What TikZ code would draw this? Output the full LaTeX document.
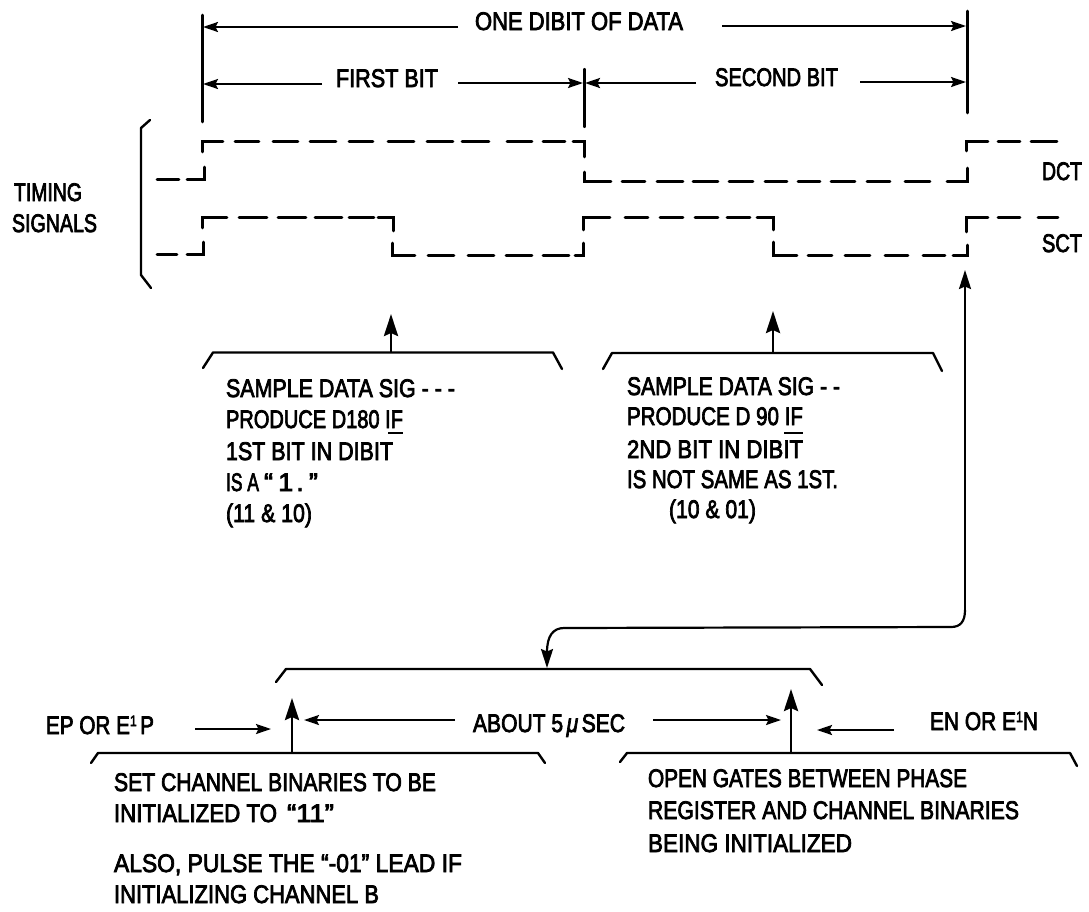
\documentclass[tikz,border=0pt]{standalone}
\usepackage{fontspec}
\usepackage{graphicx}
\usetikzlibrary{arrows.meta}
\setmainfont{Liberation Sans}[FakeBold=3.2]
\tikzset{
  lab/.style={anchor=base west,inner sep=0pt,outer sep=0pt,font=\fontsize{25.5}{28}\selectfont},
  tick/.style={line width=2.9pt,line cap=round},
  sig/.style={line width=2.9pt,line cap=round,line join=miter},
  brk/.style={line width=2.4pt,line cap=round,line join=round},
  hair/.style={line width=2.1pt,-{Stealth[length=15pt,width=10pt,inset=2.5pt]}},
  bigup/.style={line width=2.9pt,-{Stealth[length=22pt,width=14pt,inset=3pt]}},
  lead/.style={line width=2.2pt,-{Stealth[length=19pt,width=12pt,inset=2.5pt]}}
}
\newcommand{\lbl}[5]{\node[lab] (#1) at (#2,#3) {\resizebox{#4pt}{\height}{#5}};}
\newcommand{\fitw}[2]{\resizebox{#1pt}{\height}{#2}}
\begin{document}
\begin{tikzpicture}[x=1pt,y=-1pt]
\useasboundingbox (0,0) rectangle (1089,911);
% ---- measuring ticks
\coordinate (ta) at (202.5,15);  \coordinate (tb) at (202.5,122);
\coordinate (tc) at (584.5,69);  \coordinate (td) at (584.5,127);
\coordinate (te) at (967.5,11);  \coordinate (tf) at (967.5,113);
\draw[tick] (ta) -- (tb);
\draw[tick,line width=2.3pt] (tc) -- (td);
\draw[tick] (te) -- (tf);
% ---- dimension labels and arrows
\lbl{onedibit}{475}{30}{208}{ONE DIBIT OF DATA}
\lbl{firstbit}{336}{87}{102}{FIRST BIT}
\lbl{secondbit}{715}{86}{123}{SECOND BIT}
\coordinate (a1) at (458,27);  \coordinate (a1e) at (203,27);
\coordinate (a2) at (722,26);  \coordinate (a2e) at (966,26);
\coordinate (a3) at (322,84);  \coordinate (a3e) at (203,84);
\coordinate (a4) at (458,83);  \coordinate (a4e) at (583,83);
\coordinate (a5) at (696,83);  \coordinate (a5e) at (585,83);
\coordinate (a6) at (860,82);  \coordinate (a6e) at (966,82);
\foreach \p/\q in {a1/a1e,a2/a2e,a3/a3e,a4/a4e,a5/a5e,a6/a6e} \draw[hair] (\p) -- (\q);
% ---- left bracket
\draw[brk] (150,120) -- (141,128) -- (141,275) -- (151,288);
\lbl{timing}{14}{201}{68}{TIMING}
\lbl{signals}{12}{232}{85}{SIGNALS}
\lbl{dct}{1042}{180}{40}{DCT}
\lbl{sct}{1042}{252}{40}{SCT}
% ---- DCT waveform
\foreach \a/\b in {235/259,273/298,310/336,349/373,388/414,427/453,462/489,507/532,543/565} \draw[sig] (\a,141.5) -- (\b,141.5);
\draw[sig] (157,179.5) -- (179,179.5);
\draw[sig] (187,179.5) -- (204.5,179.5) -- (204.5,167);
\draw[sig] (202.5,152) -- (202.5,141.5) -- (223,141.5);
\draw[sig] (573,141.5) -- (584.5,141.5) -- (584.5,157);
\draw[sig] (584.5,172) -- (584.5,181.5) -- (611,181.5);
\foreach \a/\b in {622/645,657/683,693/718,729/753,765/787,798/820,831/855,867/890,905/930} \draw[sig] (\a,181.5) -- (\b,181.5);
\draw[sig] (947,181.5) -- (967.5,181.5) -- (967.5,168);
\draw[sig] (966.5,151) -- (966.5,141.5) -- (988,141.5);
\foreach \a/\b in {998/1020,1031/1057} \draw[sig] (\a,141.5) -- (\b,141.5);
% ---- SCT waveform
\draw[sig] (157,254.5) -- (177,254.5);
\draw[sig] (187,254.5) -- (203.5,254.5) -- (203.5,242);
\draw[sig] (202.5,228) -- (202.5,217.5) -- (227,217.5);
\foreach \a/\b in {239/267,278/306,315/342,349/374} \draw[sig] (\a,217.5) -- (\b,217.5);
\draw[sig] (378,217.5) -- (393.5,217.5) -- (393.5,231);
\draw[sig] (392.5,243) -- (392.5,255.5) -- (415,255.5);
\foreach \a/\b in {428/454,468/494,506/532,543/569} \draw[sig] (\a,255.5) -- (\b,255.5);
\draw[sig] (575,255.5) -- (583.5,255.5) -- (583.5,243);
\draw[sig] (583.5,230) -- (583.5,217.5) -- (610,217.5);
\foreach \a/\b in {625/648,660/683,695/718,727/750} \draw[sig] (\a,217.5) -- (\b,217.5);
\draw[sig] (757,217.5) -- (773.5,217.5) -- (773.5,230);
\draw[sig] (773.5,242) -- (773.5,255.5) -- (797,255.5);
\foreach \a/\b in {808/832,845/870,885/908,923/945} \draw[sig] (\a,255.5) -- (\b,255.5);
\draw[sig] (953,255.5) -- (967.5,255.5) -- (967.5,245);
\draw[sig] (966.5,232) -- (966.5,217.5) -- (988,217.5);
\foreach \a/\b in {998/1020,1038/1058} \draw[sig] (\a,217.5) -- (\b,217.5);
% ---- sampling braces
\coordinate (s1) at (391,352); \coordinate (s1t) at (391,314);
\coordinate (s2) at (773,353); \coordinate (s2t) at (773,311);
\draw[brk] (203,368) -- (213,352.5) -- (553,352.5) -- (562,369);
\draw[brk] (603,369) -- (612,353) -- (933,353) -- (942,371);
\draw[bigup] (s1) -- (s1t);
\draw[bigup] (s2) -- (s2t);
\lbl{sa1}{226}{397}{229}{SAMPLE DATA SIG - - -}
\lbl{sa2}{226}{428}{177}{PRODUCE D180 IF}
\lbl{sa3}{226}{460}{167}{1ST BIT IN DIBIT}
\node[lab] (sa4) at (226,491) {\fitw{33}{IS A}\hspace{5pt}\fitw{54}{“\hspace{5pt}1\hspace{3pt}.\hspace{5pt}”}};
\lbl{sa5}{226}{522}{86}{(11 \& 10)}
\lbl{sb1}{627}{395}{213}{SAMPLE DATA SIG - -}
\lbl{sb2}{627}{425}{176}{PRODUCE D 90 IF}
\lbl{sb3}{627}{458}{176}{2ND BIT IN DIBIT}
\lbl{sb4}{627}{488}{211}{IS NOT SAME AS 1ST.}
\lbl{sb5}{669}{518}{87}{(10 \& 01)}
\draw[line width=2pt] (388,432.5) -- (403,432.5);
\draw[line width=2pt] (784,432.5) -- (803,432.5);
% ---- long connector
\coordinate (lu) at (965,270);
\coordinate (ld) at (547,668);
\draw[lead] (965,610) .. controls (965,622) and (960,627) .. (951,627)
  -- (564,628) .. controls (553,628) and (547,636) .. (ld);
\draw[lead] (965,610) -- (lu);
% ---- lower braces
\draw[brk] (276,682) -- (286,669) -- (810,669) -- (822,685);
\draw[brk] (91,763) -- (98,753) -- (538,753) -- (545,763);
\draw[brk] (620,762) -- (627,753) -- (1070,753) -- (1077,766);
\coordinate (u1) at (292,753); \coordinate (u1t) at (292,698);
\coordinate (u2) at (791,753); \coordinate (u2t) at (791,689);
\draw[bigup] (u1) -- (u1t);
\draw[bigup] (u2) -- (u2t);
% ---- lower labels and arrows
\lbl{ep}{46}{734}{108}{EP OR E\raisebox{8pt}{\fontsize{15}{15}\selectfont 1}\,P}
\lbl{en}{930}{730}{108}{EN OR E\raisebox{8pt}{\fontsize{15}{15}\selectfont 1}N}
\lbl{about}{473}{732}{152}{ABOUT 5\,\textit{μ}\,SEC}
\coordinate (b1) at (195,729); \coordinate (b1e) at (271,729);
\coordinate (b2) at (455,720); \coordinate (b2e) at (304,720);
\coordinate (b3) at (653,720); \coordinate (b3e) at (781,720);
\coordinate (b4) at (894,730); \coordinate (b4e) at (817,730);
\foreach \p/\q in {b1/b1e,b2/b2e,b3/b3e,b4/b4e} \draw[hair] (\p) -- (\q);
\lbl{c1}{114}{791}{322}{SET CHANNEL BINARIES TO BE}
\node[lab] (c2) at (114,822) {\fitw{163}{INITIALIZED TO}\hspace{10pt}\fitw{47}{“11”}};
\lbl{c3}{114}{872}{348}{ALSO, PULSE THE “-01” LEAD IF}
\lbl{c4}{114}{903}{265}{INITIALIZING CHANNEL B}
\lbl{d1}{648}{787}{319}{OPEN GATES BETWEEN PHASE}
\lbl{d2}{648}{819}{371}{REGISTER AND CHANNEL BINARIES}
\lbl{d3}{648}{852}{204}{BEING INITIALIZED}
\end{tikzpicture}
\end{document}
